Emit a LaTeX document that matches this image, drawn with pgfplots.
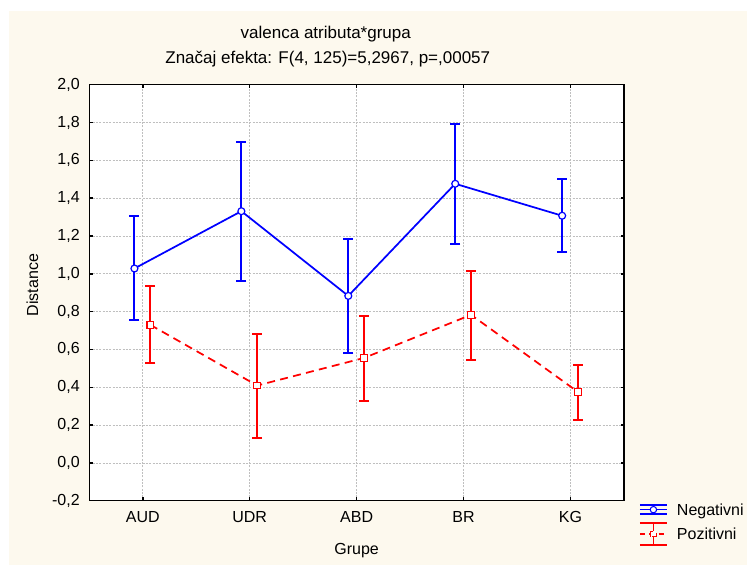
\documentclass[border=0pt]{standalone}
\usepackage{pgfplots}
\pgfplotsset{compat=1.18}
\usepackage{fontspec}
\setmainfont{Liberation Sans}
\definecolor{cream}{RGB}{253,249,238}
\definecolor{sblue}{RGB}{0,0,255}
\definecolor{sred}{RGB}{255,0,0}
\pgfplotstableread{
x y ep em
-0.078 1.028 0.279 0.273
0.922 1.331 0.367 0.370
1.922 0.883 0.302 0.300
2.922 1.476 0.318 0.316
3.922 1.307 0.192 0.194
}\negtab
\pgfplotstableread{
x y ep em
0.07 0.730 0.206 0.203
1.07 0.409 0.273 0.276
2.07 0.555 0.221 0.227
3.07 0.783 0.233 0.238
4.07 0.375 0.141 0.146
}\postab
\begin{document}
\begin{tikzpicture}[x=0.75pt,y=0.75pt]
\path[use as bounding box] (0,0) rectangle (747,565);
\fill[cream] (9,0) rectangle (747,554);
\node[font=\fontsize{12.75}{15}\selectfont] at (325.8,531) {valenca atributa*grupa};
\node[font=\fontsize{12.75}{15}\selectfont] at (327.8,506) {Značaj efekta: F(4, 125)=5,2967, p=,00057};
\begin{axis}[
  at={(66.98pt,48.23pt)}, anchor=south west,
  scale only axis, width=401pt, height=312pt,
  xmin=-0.5, xmax=4.5, ymin=-0.2, ymax=2.0,
  axis background/.style={fill=white},
  axis line style={black, line width=1.1pt},
  xtick={0,1,2,3,4}, xticklabels={AUD,UDR,ABD,BR,KG},
  ytick={-0.2,0,0.2,0.4,0.6,0.8,1.0,1.2,1.4,1.6,1.8,2.0},
  tick align=inside, major tick length=2.5pt,
  tick style={black, line width=1.1pt},
  xmajorgrids, ymajorgrids,
  grid style={gray!50, line width=0.5pt, dash pattern=on 1.5pt off 1pt},
  /pgf/number format/.cd, use comma, fixed, fixed zerofill, precision=1, assume math mode=true,
  /pgfplots/.cd,
  ticklabel style={font=\fontsize{12}{14}\selectfont},
  yticklabel style={anchor=east, inner sep=0pt, xshift=-7pt},
  xticklabel style={anchor=center, inner sep=0pt, yshift=-12.2pt},
  label style={font=\fontsize{12}{14}\selectfont},
  xlabel={Grupe},
  xlabel style={at={(axis description cs:0.5,0)}, anchor=center, inner sep=0pt, yshift=-37.7pt},
  ylabel={Distance},
  ylabel style={at={(axis description cs:0,0.5185)}, anchor=center, inner sep=0pt, xshift=0pt, yshift=42.6pt},
  legend style={at={(axis description cs:1.0299,-0.0046)}, anchor=north west, draw=none, fill=none,
    inner sep=0pt, outer sep=0pt, row sep=7.6pt, column sep=7.5pt, font=\fontsize{12}{14}\selectfont,
    nodes={inner sep=0pt, anchor=west, text height=9.6pt, text depth=1pt}},
]
% error bars (drawn first, below the marks)
\addplot[draw=none, mark=none, forget plot,
  error bars/.cd, y dir=both, y explicit,
  error bar style={draw=sblue, solid, line width=1.5pt},
  error mark options={draw=sblue, solid, line width=1.5pt, mark size=3.75pt, rotate=90}]
  table[x=x, y=y, y error plus=ep, y error minus=em] {\negtab};
\addplot[draw=none, mark=none, forget plot,
  error bars/.cd, y dir=both, y explicit,
  error bar style={draw=sred, solid, line width=1.5pt},
  error mark options={draw=sred, solid, line width=1.5pt, mark size=3.75pt, rotate=90}]
  table[x=x, y=y, y error plus=ep, y error minus=em] {\postab};
% means
\addplot[sblue, line width=1.3pt, mark=*, mark size=2.6pt, mark options={draw=sblue, fill=white, line width=0.9pt},
  legend image code/.code={
    \path[draw=none,fill=none] (0pt,-5pt) rectangle (20.25pt,5pt);
    \draw[overlay,sblue,line width=1.2pt,solid] (0pt,3.4pt) -- (20.25pt,3.4pt) (0pt,-3.4pt) -- (20.25pt,-3.4pt) (10.1pt,-3.4pt) -- (10.1pt,3.4pt) (0pt,0pt) -- (20.25pt,0pt);
    \draw[overlay,sblue,line width=0.8pt,fill=white] (10.1pt,0pt) circle (2.4pt);
  }]
  table[x=x, y=y] {\negtab};
\addlegendentry{Negativni}
\addplot[sred, line width=1.3pt, dash pattern=on 6pt off 4pt, mark=square*, mark size=2.5pt, mark options={draw=sred, fill=white, solid, line width=0.9pt},
  legend image code/.code={
    \path[draw=none,fill=none] (0pt,-5pt) rectangle (20.25pt,5pt);
    \draw[overlay,sred,line width=1.2pt,solid] (0pt,8.25pt) -- (20.25pt,8.25pt) (0pt,-8.25pt) -- (20.25pt,-8.25pt) (10.1pt,-8.25pt) -- (10.1pt,8.25pt);
    \draw[overlay,sred,line width=1.1pt,dash pattern=on 4pt off 3pt] (0pt,0pt) -- (20.25pt,0pt);
    \draw[overlay,sred,line width=0.8pt,fill=white] (8.0pt,-2.1pt) rectangle (12.2pt,2.1pt);
  }]
  table[x=x, y=y] {\postab};
\addlegendentry{Pozitivni}
\end{axis}
\end{tikzpicture}
\end{document}
